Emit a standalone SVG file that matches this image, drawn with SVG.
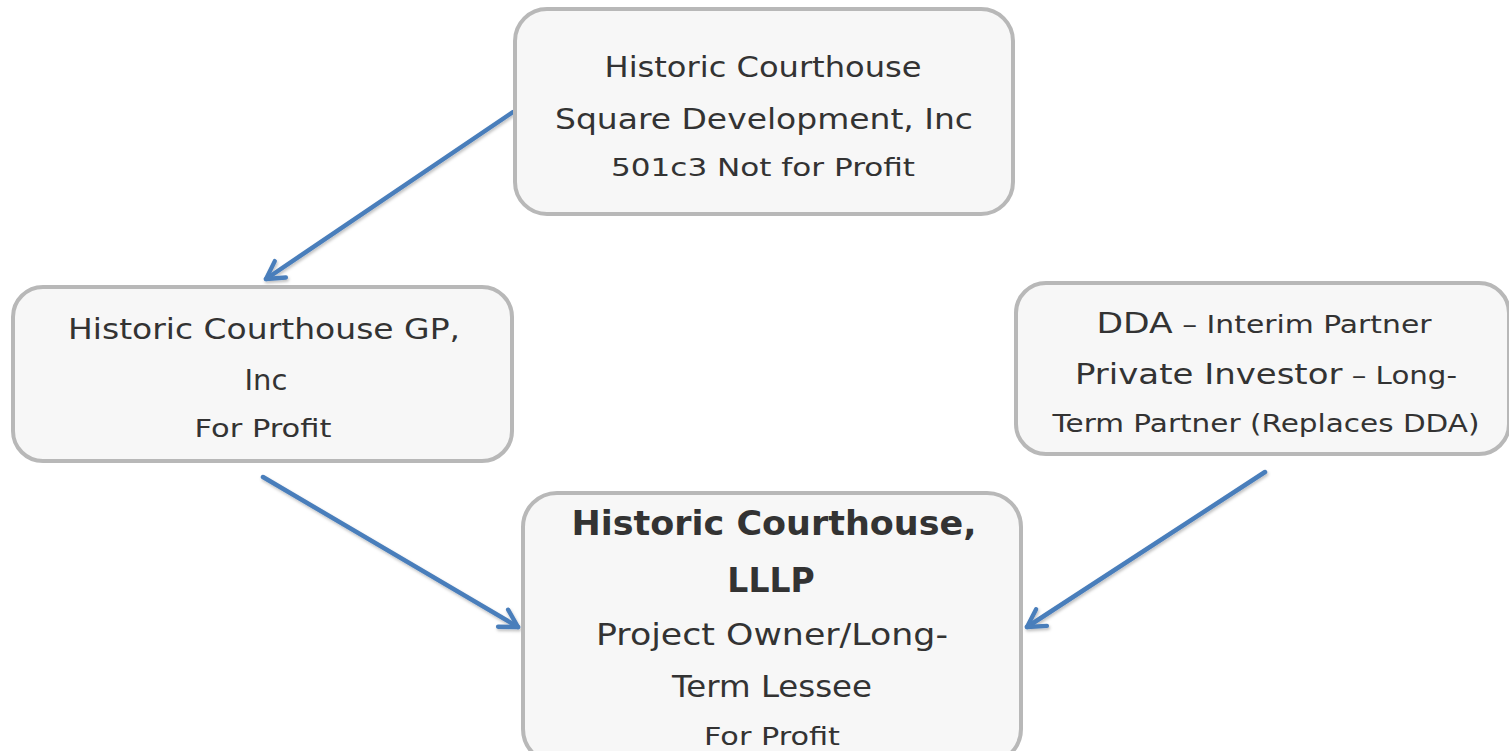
<svg xmlns="http://www.w3.org/2000/svg" width="1509" height="751" viewBox="0 0 1509 751">
<defs>
<style>
.box{fill:#f7f7f7;stroke:#b8b8b8;stroke-width:4}
.t{font-family:"DejaVu Sans","Liberation Sans",sans-serif;fill:#333;text-anchor:middle}
.l{font-size:29px}
.s{font-size:25px}
.m{font-size:30px}
.b{font-size:33px;font-weight:bold}
.conn{stroke:#4a7ebb;stroke-width:4.5;fill:none;stroke-linecap:round}
</style>
<marker id="ah" viewBox="0 0 20 20" refX="17" refY="10" markerWidth="5.5" markerHeight="5.5" markerUnits="strokeWidth" orient="auto">
<path d="M3,2 L17,10 L3,18" fill="none" stroke="#4a7ebb" stroke-width="3.5" stroke-linecap="round" stroke-linejoin="round"/>
</marker>
<filter id="sh" x="-10%" y="-10%" width="120%" height="130%">
<feDropShadow dx="1" dy="2" stdDeviation="1.5" flood-color="#000" flood-opacity="0.25"/>
</filter>
</defs>
<rect width="1509" height="751" fill="#fff"/>
<g id="connectors" filter="url(#sh)">
<line class="conn" x1="513" y1="112" x2="266" y2="279" marker-end="url(#ah)"/>
<line class="conn" x1="263" y1="477" x2="518" y2="627" marker-end="url(#ah)"/>
<line class="conn" x1="1265" y1="472" x2="1027" y2="627" marker-end="url(#ah)"/>
</g>
<g id="node-hcsd">
<rect class="box" x="515" y="9" width="498" height="205" rx="32"/>
<text class="t l" x="763" y="77" textLength="317" lengthAdjust="spacingAndGlyphs">Historic Courthouse</text>
<text class="t l" x="764" y="129" textLength="418" lengthAdjust="spacingAndGlyphs">Square Development, Inc</text>
<text class="t s" x="763" y="176" textLength="304" lengthAdjust="spacingAndGlyphs">501c3 Not for Profit</text>
</g>
<g id="node-gp">
<rect class="box" x="13" y="287" width="499" height="174" rx="30"/>
<text class="t l" x="264" y="339" textLength="392" lengthAdjust="spacingAndGlyphs">Historic Courthouse GP,</text>
<text class="t l" x="266" y="390">Inc</text>
<text class="t s" x="263" y="437" textLength="137" lengthAdjust="spacingAndGlyphs">For Profit</text>
</g>
<g id="node-dda">
<rect class="box" x="1016" y="283" width="493" height="171" rx="30"/>
<text class="t" x="1264" y="333" textLength="335" lengthAdjust="spacingAndGlyphs"><tspan class="l">DDA</tspan><tspan class="s"> – Interim Partner</tspan></text>
<text class="t" x="1266" y="384" textLength="382" lengthAdjust="spacingAndGlyphs"><tspan class="l">Private Investor</tspan><tspan class="s"> – Long-</tspan></text>
<text class="t s" x="1266" y="432" textLength="427" lengthAdjust="spacingAndGlyphs">Term Partner (Replaces DDA)</text>
</g>
<g id="node-lllp">
<rect class="box" x="523" y="493" width="498" height="270" rx="34"/>
<text class="t b" x="774" y="535" textLength="405" lengthAdjust="spacingAndGlyphs">Historic Courthouse,</text>
<text class="t b" x="771" y="592">LLLP</text>
<text class="t m" x="772" y="645" textLength="352" lengthAdjust="spacingAndGlyphs">Project Owner/Long-</text>
<text class="t m" x="772" y="697" textLength="200" lengthAdjust="spacingAndGlyphs">Term Lessee</text>
<text class="t s" x="772" y="745" textLength="136" lengthAdjust="spacingAndGlyphs">For Profit</text>
</g>
</svg>
